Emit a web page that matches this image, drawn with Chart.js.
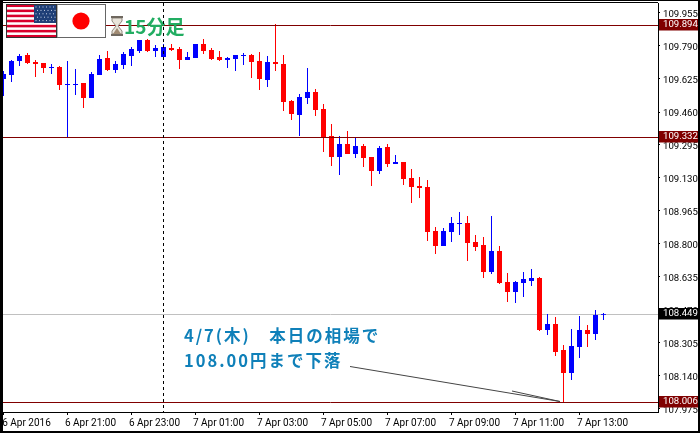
<!DOCTYPE html>
<html lang="ja">
<head>
<meta charset="utf-8">
<title>USD/JPY 15分足</title>
<script src="https://cdn.jsdelivr.net/npm/chart.js@4"></script>
<style>
html,body{margin:0;padding:0;background:#fff;overflow:hidden}
canvas{display:block}
</style>
</head>
<body>
<canvas id="chart" width="700" height="433"></canvas>
<script>
// 15分足 USD/JPY, 6 Apr 19:00 から
const opens = [109.625,109.645,109.715,109.745,109.710,109.705,109.680,109.685,109.595,109.595,
  109.605,109.530,109.645,109.730,109.670,109.695,109.740,109.765,109.820,109.765,
  109.735,109.780,109.775,109.720,109.730,109.800,109.770,109.735,109.720,109.725,
  109.740,109.745,109.715,109.620,109.710,109.700,109.515,109.445,109.530,109.560,
  109.475,109.340,109.235,109.300,109.250,109.290,109.235,109.165,109.285,109.200,
  109.210,109.130,109.090,109.085,108.865,108.790,108.860,108.900,108.905,108.810,
  108.795,108.660,108.765,108.610,108.560,108.605,108.615,108.630,108.370,108.400,
  108.270,108.155,108.285,108.370,108.350,108.445];
const highs = [109.665,109.720,109.750,109.755,109.720,109.705,109.700,109.690,109.715,109.675,
  109.605,109.660,109.745,109.765,109.715,109.760,109.785,109.820,109.825,109.795,
  109.800,109.800,109.785,109.760,109.800,109.825,109.780,109.765,109.735,109.745,
  109.755,109.750,109.760,109.740,109.900,109.745,109.520,109.550,109.680,109.575,
  109.500,109.400,109.340,109.365,109.330,109.300,109.235,109.290,109.300,109.245,
  109.210,109.175,109.135,109.120,108.885,108.880,108.935,108.960,108.940,108.845,
  108.835,108.940,108.790,108.655,108.615,108.660,108.675,108.635,108.450,108.435,
  108.295,108.375,108.440,108.395,108.470,108.455];
const lows = [109.540,109.610,109.690,109.700,109.635,109.655,109.650,109.570,109.335,109.545,
  109.480,109.530,109.645,109.665,109.655,109.675,109.690,109.755,109.760,109.735,
  109.725,109.765,109.675,109.720,109.730,109.750,109.720,109.715,109.680,109.665,
  109.695,109.630,109.570,109.585,109.665,109.465,109.420,109.340,109.500,109.440,
  109.260,109.190,109.145,109.250,109.230,109.185,109.090,109.150,109.185,109.200,
  109.095,109.005,109.030,108.815,108.750,108.790,108.810,108.845,108.715,108.765,
  108.630,108.650,108.600,108.510,108.505,108.535,108.590,108.365,108.345,108.240,
  108.006,108.120,108.230,108.285,108.320,108.420];
const closes = [109.650,109.715,109.740,109.705,109.700,109.680,109.685,109.595,109.600,109.600,
  109.530,109.650,109.725,109.670,109.700,109.750,109.775,109.820,109.765,109.780,
  109.785,109.770,109.720,109.735,109.800,109.765,109.725,109.720,109.730,109.745,
  109.745,109.710,109.625,109.710,109.700,109.510,109.450,109.535,109.560,109.470,
  109.335,109.235,109.300,109.250,109.290,109.230,109.165,109.280,109.200,109.210,
  109.125,109.085,109.080,108.860,108.790,108.865,108.905,108.905,108.805,108.785,
  108.660,108.765,108.605,108.560,108.610,108.625,108.630,108.370,108.400,108.260,
  108.155,108.290,108.370,108.350,108.445,108.449];

const priceTicks = [107.975,108.140,108.305,108.470,108.635,108.800,108.965,109.130,109.295,109.460,109.625,109.790,109.955];
const timeTickIndex = [0,8,16,24,32,40,48,56,64,72];
const timeTickLabels = ['6 Apr 2016','6 Apr 21:00','6 Apr 23:00','7 Apr 01:00','7 Apr 03:00','7 Apr 05:00','7 Apr 07:00','7 Apr 09:00','7 Apr 11:00','7 Apr 13:00'];
const redLevels = [109.894,109.332,108.006];
const priceNow = 108.449;
const daySplitIndex = 20;

const BLUE = '#0000ff', RED = '#ff0000', MAROON = '#800000';
const AXIS_FONT = {family:'Roboto', size:9.6};
const TIME_FONT = {family:'Roboto', size:10};

const candleColors = opens.map((o,i)=> closes[i] >= o ? BLUE : RED);

function hline(ctx, area, y, color){
    ctx.strokeStyle = color;
    ctx.lineWidth = 1;
    ctx.beginPath();
    ctx.moveTo(area.left, Math.floor(y)+0.5);
    ctx.lineTo(area.right, Math.floor(y)+0.5);
    ctx.stroke();
}

function drawFlags(ctx){
    // USA
    ctx.fillStyle = '#fff';
    ctx.fillRect(6,4,51,34);
    const stripeH = 33/13;
    ctx.fillStyle = '#d8002c';
    for(let s=0;s<13;s+=2){
        ctx.fillRect(6, 4.5+s*stripeH, 51, stripeH);
    }
    ctx.fillStyle = '#1f3f77';
    ctx.fillRect(34,5,22,18);
    ctx.fillStyle = '#c9d4e6';
    for(let r=0;r<5;r++){
        for(let c=0;c<6;c++){
            ctx.fillRect(35.5+c*3.5+(r%2?1.5:0), 6.5+r*3.4, 1, 1);
        }
    }
    // Japan
    ctx.fillStyle = '#fff';
    ctx.fillRect(57,4,49,34);
    ctx.fillStyle = '#ff0000';
    ctx.beginPath();
    ctx.arc(81,21,8.6,0,Math.PI*2);
    ctx.fill();
    ctx.strokeStyle = '#666';
    ctx.lineWidth = 1;
    ctx.strokeRect(57,4.5,48.5,33);
    ctx.strokeStyle = '#333';
    ctx.strokeRect(6.5,4.5,50,33);
}

function drawHourglass(ctx){
    ctx.fillStyle = '#e9e4da';
    ctx.beginPath();
    ctx.moveTo(112,18); ctx.lineTo(122,18); ctx.lineTo(122,21); ctx.lineTo(118,26); ctx.lineTo(122,31); ctx.lineTo(122,34);
    ctx.lineTo(112,34); ctx.lineTo(112,31); ctx.lineTo(116,26); ctx.lineTo(112,21); ctx.closePath();
    ctx.fill();
    ctx.strokeStyle = '#8f887e';
    ctx.stroke();
    ctx.fillStyle = '#a08a72';
    ctx.beginPath();
    ctx.moveTo(113,34); ctx.lineTo(121,34); ctx.lineTo(117,28); ctx.closePath();
    ctx.fill();
    ctx.fillStyle = '#6f685f';
    ctx.fillRect(111,16,12,2);
    ctx.fillRect(111,34,12,2);
}

const overlay = {
    id:'overlay',
    beforeDatasetsDraw(chart){
        const {ctx, chartArea, scales} = chart;
        ctx.save();
        hline(ctx, chartArea, scales.y.getPixelForValue(priceNow), '#c0c0c0');
        ctx.restore();
    },
    afterDatasetsDraw(chart){
        const {ctx, chartArea, scales} = chart;
        const yScale = scales.y;
        ctx.save();
        redLevels.forEach(v=>hline(ctx, chartArea, yScale.getPixelForValue(v), MAROON));

        // タイトル
        drawFlags(ctx);
        drawHourglass(ctx);
        ctx.fillStyle = '#22ad62';
        ctx.font = 'bold 19px "Noto Sans CJK JP"';
        ctx.textAlign = 'left';
        ctx.textBaseline = 'alphabetic';
        ctx.fillText('15分足', 124, 34);

        // 日付の区切り
        const splitX = Math.floor(scales.x.getPixelForValue(daySplitIndex))+0.5;
        ctx.strokeStyle = '#000';
        ctx.lineWidth = 1;
        ctx.setLineDash([3,3]);
        ctx.beginPath();
        ctx.moveTo(splitX, chartArea.top);
        ctx.lineTo(splitX, chartArea.bottom);
        ctx.stroke();
        ctx.setLineDash([]);

        // コメント
        ctx.fillStyle = '#0f80b9';
        ctx.font = 'bold 16.5px "Noto Sans CJK JP"';
        ctx.letterSpacing = '2px';
        ctx.fillText('4/7(木)　本日の相場で', 184, 342);
        ctx.fillText('108.00円まで下落', 184, 367);
        ctx.letterSpacing = '0px';

        // 矢印
        ctx.strokeStyle = '#444';
        ctx.beginPath();
        ctx.moveTo(350,366.5);
        ctx.lineTo(560,401.5);
        ctx.moveTo(512,391);
        ctx.lineTo(560,401.5);
        ctx.stroke();

        // 価格タグ
        const tags = redLevels.map(v=>[v,MAROON]).concat([[priceNow,'#000']]);
        ctx.font = AXIS_FONT.size+'px '+AXIS_FONT.family;
        ctx.textBaseline = 'middle';
        tags.forEach(([v,bg])=>{
            const y = Math.floor(yScale.getPixelForValue(v));
            ctx.fillStyle = bg;
            ctx.fillRect(659, y-6, 39, 11.5);
            ctx.fillStyle = '#fff';
            ctx.fillText(v.toFixed(3), 663, y);
        });

        // 枠
        ctx.fillStyle = '#000';
        ctx.fillRect(0,0,700,1);
        ctx.fillRect(3,2,655,1);
        ctx.fillRect(0,0,3,433);
        ctx.fillRect(698,0,2,433);
        ctx.fillRect(0,431,700,2);
        ctx.restore();
    }
};

const chart = new Chart(document.getElementById('chart').getContext('2d'), {
    type:'bar',
    data:{
        datasets:[
            {
                label:'wick',
                data:opens.map((_,i)=>({x:i, y:[lows[i],highs[i]]})),
                backgroundColor:candleColors,
                maxBarThickness:1,
                grouped:false,
                inflateAmount:0,
                order:2
            },
            {
                label:'body',
                data:opens.map((o,i)=>({x:i, y:[o,closes[i]]})),
                backgroundColor:candleColors,
                maxBarThickness:5,
                grouped:false,
                inflateAmount:0,
                order:1
            }
        ]
    },
    options:{
        responsive:false,
        animation:false,
        layout:{padding:{left:3,top:3,right:0,bottom:0}},
        plugins:{legend:{display:false},tooltip:{enabled:false}},
        scales:{
            x:{
                type:'linear',
                position:'bottom',
                offset:false,
                min:-0.0625,
                max:81.8125,
                grid:{offset:false,drawOnChartArea:false,color:'#000',tickLength:3},
                border:{color:'#000'},
                afterBuildTicks:s=>{ s.ticks = timeTickIndex.map(v=>({value:v})); },
                afterFit:s=>{ s.height = 21; s.paddingLeft = 0; s.paddingRight = 0; },
                ticks:{
                    autoSkip:false,
                    maxRotation:0,
                    minRotation:0,
                    labelOffset:23,
                    padding:2,
                    color:'#000',
                    font:TIME_FONT,
                    callback:v=>timeTickLabels[timeTickIndex.indexOf(v)]
                }
            },
            y:{
                type:'linear',
                position:'right',
                min:107.96,
                max:110.005,
                grid:{drawOnChartArea:false,color:'#000',tickLength:2},
                border:{color:'#000'},
                afterBuildTicks:s=>{ s.ticks = priceTicks.map(v=>({value:v})); },
                afterFit:s=>{ s.width = 42; s.paddingTop = 0; s.paddingBottom = 0; },
                ticks:{
                    autoSkip:false,
                    padding:3,
                    labelOffset:2,
                    color:'#000',
                    font:AXIS_FONT,
                    callback:v=>v.toFixed(3)
                }
            }
        }
    },
    plugins:[overlay]
});
</script>
</body>
</html>
